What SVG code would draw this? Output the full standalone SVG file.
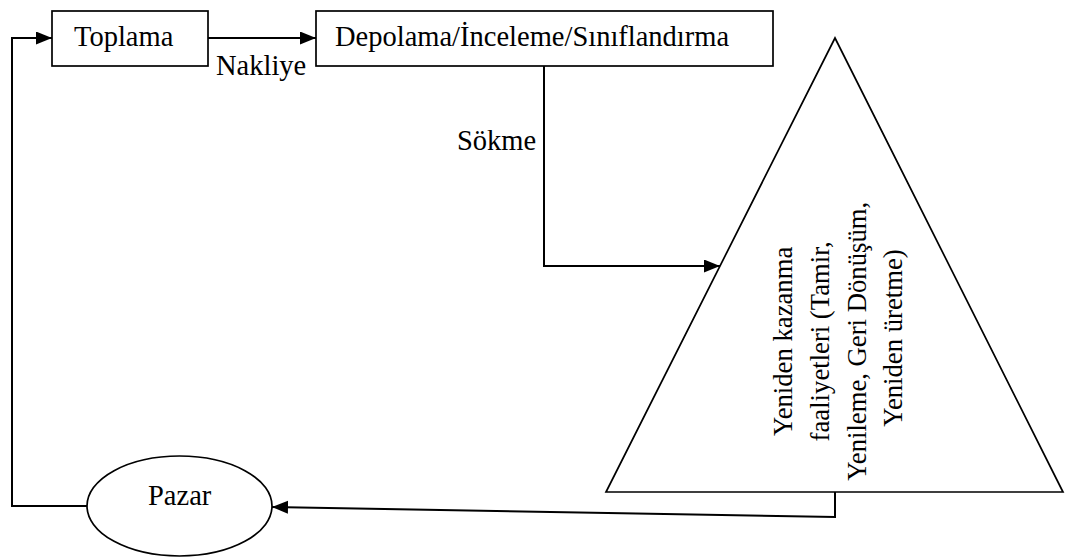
<svg xmlns="http://www.w3.org/2000/svg" width="1066" height="557" viewBox="0 0 1066 557">
  <style>
    .shape { fill: #fff; stroke: #000; stroke-width: 1.7; }
    .link { fill: none; stroke: #000; stroke-width: 2; }
    .lbl { font-family: "Liberation Serif", "Times New Roman", serif; font-size: 28.5px; fill: #000; }
    .vlbl { font-family: "Liberation Serif", "Times New Roman", serif; font-size: 26.7px; fill: #000; }
  </style>
  <defs>
    <marker id="arrow" markerUnits="userSpaceOnUse" markerWidth="17" markerHeight="14" refX="16" refY="6.5" orient="auto">
      <path d="M0,0 L16,6.5 L0,13 z" fill="#000"/>
    </marker>
  </defs>
  <rect width="1066" height="557" fill="#fff"/>

  <!-- connectors -->
  <g id="connectors">
    <polyline class="link" points="87,506 12,506 12,38 52,38" marker-end="url(#arrow)"/>
    <line class="link" x1="208" y1="38" x2="316" y2="38" marker-end="url(#arrow)"/>
    <polyline class="link" points="544,66 544,266 720,266" marker-end="url(#arrow)"/>
    <polyline class="link" points="835,492 835,517 272,507" marker-end="url(#arrow)"/>
    <text class="lbl" x="216" y="75">Nakliye</text>
    <text class="lbl" x="457" y="150">Sökme</text>
  </g>

  <!-- nodes -->
  <g id="toplama">
    <rect class="shape" x="52" y="11" width="156" height="55"/>
    <text class="lbl" x="74" y="46">Toplama</text>
  </g>
  <g id="depolama">
    <rect class="shape" x="316" y="11" width="457" height="55"/>
    <text class="lbl" x="335" y="46">Depolama/İnceleme/Sınıflandırma</text>
  </g>
  <g id="yeniden-kazanma">
    <polygon class="shape" points="835,38 1063,492 606,492"/>
    <text class="vlbl" transform="rotate(-90)" text-anchor="middle">
      <tspan x="-338" y="792">Yeniden kazanma</tspan>
      <tspan x="-338" y="829">faaliyetleri (Tamir,</tspan>
      <tspan x="-338" y="866">Yenileme, Geri Dönüşüm,</tspan>
      <tspan x="-338" y="902">Yeniden üretme)</tspan>
    </text>
  </g>
  <g id="pazar">
    <ellipse class="shape" cx="179.5" cy="506" rx="92.5" ry="50"/>
    <text class="lbl" x="148" y="505">Pazar</text>
  </g>
</svg>
